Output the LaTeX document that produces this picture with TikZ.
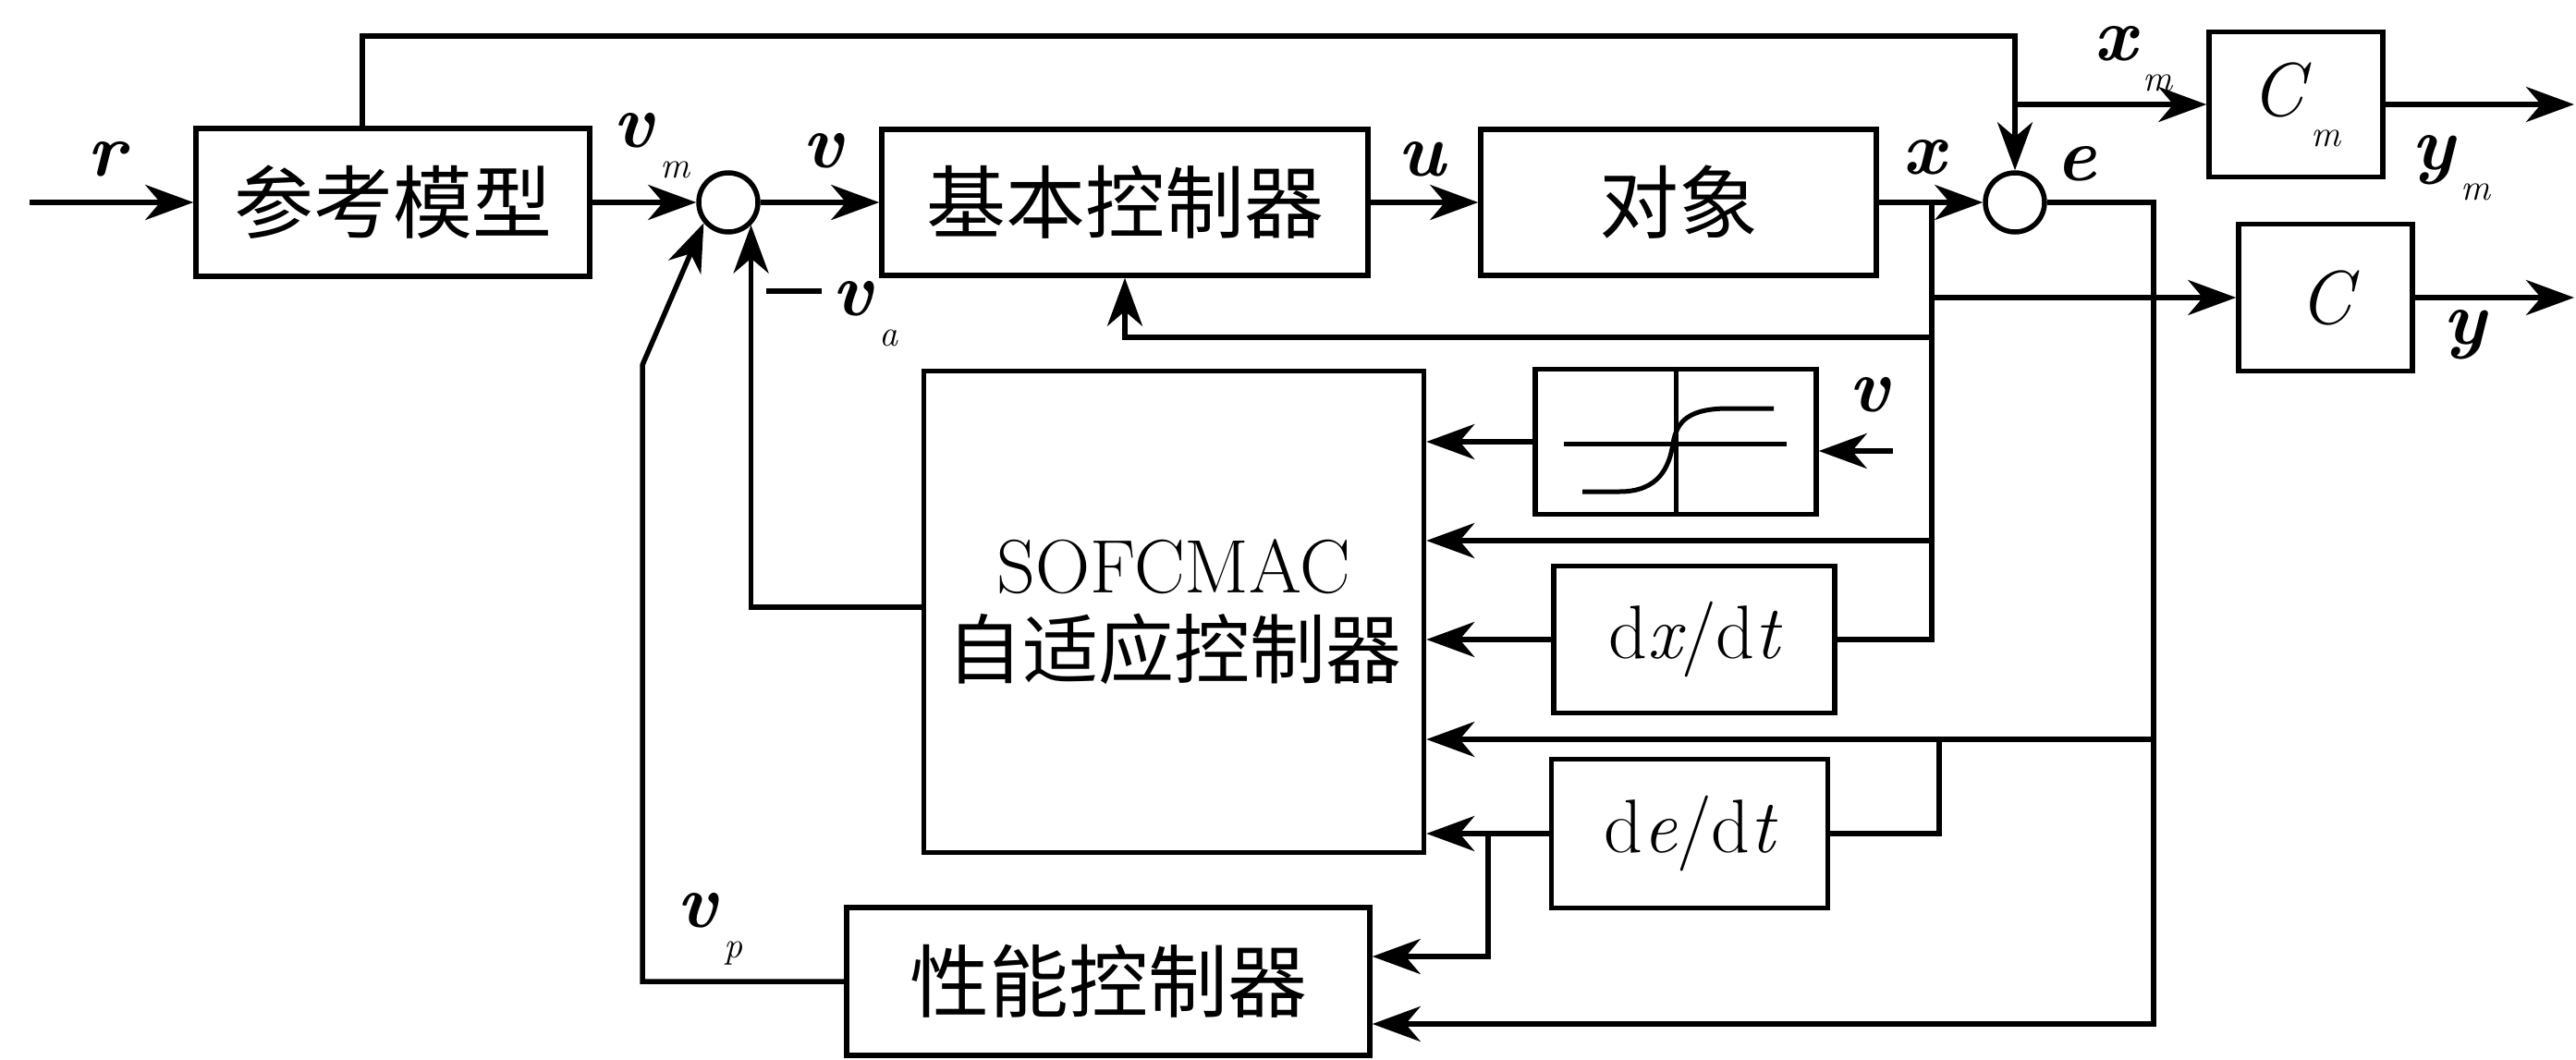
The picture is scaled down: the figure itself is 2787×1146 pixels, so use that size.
\documentclass[tikz,border=0pt]{standalone}
\usepackage{fontspec}
\newfontfamily\cjk{Noto Sans CJK SC}
\usetikzlibrary{arrows.meta,calc}
\newcommand\cjkbig{\fontsize{86}{100}\selectfont\cjk}
\newcommand\labfont{\fontsize{82}{98}\selectfont}
\newcommand\bi[1]{{\bfseries\itshape #1}}
\newcommand\sbs[1]{\raisebox{-0.4em}{\fontsize{40}{44}\selectfont\itshape\,#1}}
\begin{document}
\begin{tikzpicture}[x=1pt,y=-1pt,
  blk/.style={draw, line width=5.5pt, inner sep=0pt, font=\cjkbig},
  sumc/.style={draw, circle, line width=5.5pt, minimum size=64pt, inner sep=0pt},
  lab/.style={font=\labfont, inner sep=0pt},
  wire/.style={line width=5.5pt},
  sigl/.style={line width=5.5pt, -{Stealth[length=52pt,width=38pt,inset=16pt]}},
  curve/.style={line width=5pt}]
\useasboundingbox (0,0) rectangle (2787,1146);

% blocks
\node[blk, minimum width=426pt, minimum height=160pt] (ref) at (425,219) {参考模型};
\node[sumc] (s1) at (788,219) {};
\node[blk, minimum width=526pt, minimum height=158pt] (base) at (1217,219) {基本控制器};
\node[blk, minimum width=428pt, minimum height=158pt] (plant) at (1816,219) {对象};
\node[sumc] (s2) at (2180,219) {};
\node[blk, minimum width=188pt, minimum height=157pt, font=\labfont] (Cm) at (2484,113) {\itshape C\sbs{m}};
\node[blk, minimum width=188pt, minimum height=159pt, font=\labfont] (C) at (2516,322) {\itshape C};
\node[blk, minimum width=541pt, minimum height=521pt, align=center, font=\fontsize{82}{92}\selectfont] (sofc) at (1270,662) {SOFCMAC\\{\cjk 自适应控制器}};
\node[blk, minimum width=304pt, minimum height=157pt] (sig) at (1813,478) {};
\node[blk, minimum width=304pt, minimum height=159pt, font=\labfont] (dxdt) at (1833,692) {d{\itshape x}/d{\itshape t}};
\node[blk, minimum width=299pt, minimum height=161pt, font=\labfont] (dedt) at (1828,902) {d{\itshape e}/d{\itshape t}};
\node[blk, minimum width=566pt, minimum height=160pt] (perf) at (1199,1062) {性能控制器};

% sigmoid symbol
\draw[curve] (sig.north) -- (sig.south);
\draw[curve] (1692,480) -- (1933,480);
\draw[curve] (1712,532) -- (1752,532) .. controls (1795,532) and (1806,505) .. (1810,480) .. controls (1814,455) and (1828,442) .. (1870,442) -- (1919,442);

% coordinates
\coordinate (rin) at (32,219);
\coordinate (tA) at (392,39);
\coordinate (xj) at (2090,219);
\coordinate (ej) at (2330,219);
\coordinate (ek) at (2098,800);
\coordinate (dj) at (1610,902);
\coordinate (vpB) at (695,395);
\coordinate (vin) at (2048,488);
\coordinate (ymo) at (2785,113);
\coordinate (yo) at (2785,322);

% connectors
\draw[sigl] (rin) -- (ref.west);
\draw[sigl] (ref.east) -- (s1.west);
\draw[sigl] (s1.east) -- (base.west);
\draw[sigl] (base.east) -- (plant.west);
\draw[sigl] (plant.east) -- (s2.west);
\draw[sigl] (ref.north -| tA) -- (tA) -| (s2.north);
\draw[sigl] (s2.north |- Cm.west) -- (Cm.west);
\draw[sigl] (Cm.east) -- (ymo);
\draw[sigl] (C.east) -- (yo);
\draw[wire] (xj) |- (dxdt.east);
\draw[sigl] (xj |- C.west) -- (C.west);
\draw[sigl] (xj |- 0,365) -| (base.south);
\draw[sigl] (xj |- 0,585) -- (sofc.east |- 0,585);
\draw[sigl] (s2.east) -- (ej) |- (perf.east |- 0,1108);
\draw[sigl] (ej |- ek) -- (sofc.east |- ek);
\draw[wire] (ek) |- (dedt.east);
\draw[sigl] (vin) -- (sig.east |- vin);
\draw[sigl] (sig.west) -- (sofc.east |- sig.west);
\draw[sigl] (dxdt.west) -- (sofc.east |- dxdt.west);
\draw[sigl] (dedt.west) -- (sofc.east |- dedt.west);
\draw[sigl] (dj) |- (perf.east |- 0,1035);
\draw[sigl] (sofc.west |- 0,657) -| (s1.-45);
\draw[sigl] (perf.west) -| (vpB) -- (s1.220);

% labels
\node[lab] (lr) at (115,172) {\bi{r}};
\node[lab] (lvm) at (705,158) {\bi{v}\sbs{m}};
\node[lab] (lv) at (890,163) {\bi{v}};
\node[lab] (lu) at (1538,172) {\bi{u}};
\node[lab] (lx) at (2081,170) {\bi{x}};
\node[lab] (le) at (2246,177) {\bi{e}};
\node[lab] (lxm) at (2308,64) {\bi{x}\sbs{m}};
\node[lab] (lym) at (2652,182) {\bi{y}\sbs{m}};
\node[lab] (ly) at (2667,362) {\bi{y}};
\node[lab] (lva) at (900,340) {\rule[24pt]{60pt}{6pt}\kern12pt\bi{v}\sbs{a}};
\node[lab] (lvp) at (768,1005) {\bi{v}\sbs{p}};
\node[lab] (lv2) at (2022,427) {\bi{v}};
\end{tikzpicture}
\end{document}
